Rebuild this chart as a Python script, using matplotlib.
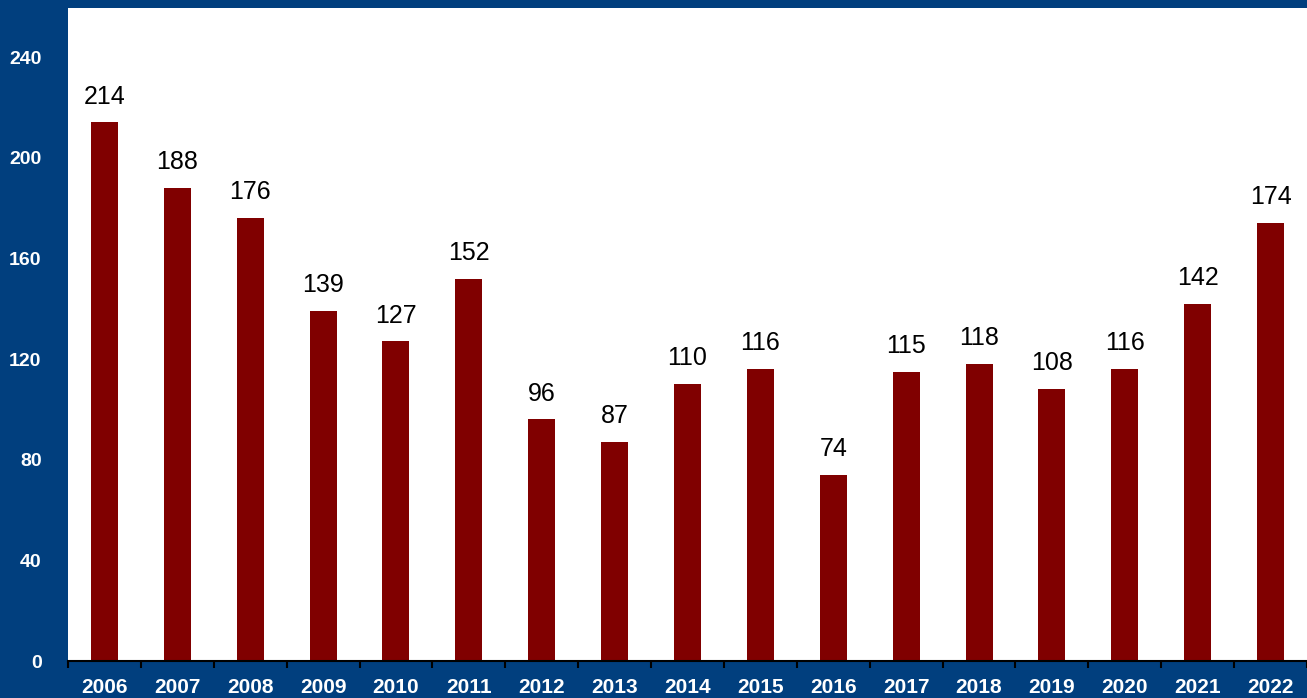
import matplotlib.pyplot as plt
import numpy as np

# datos del grafico
anios = ["2006", "2007", "2008", "2009", "2010", "2011", "2012", "2013", "2014",
         "2015", "2016", "2017", "2018", "2019", "2020", "2021", "2022"]
valores = [214, 188, 176, 139, 127, 152, 96, 87, 110, 116, 74, 115, 118, 108, 116, 142, 174]
yticks = [0, 40, 80, 120, 160, 200, 240]

azul = "#013F7E"
rojo = "#800000"

plt.rcParams['font.family'] = ['Liberation Sans', 'DejaVu Sans']

fig = plt.figure(figsize=(13.07, 6.98), dpi=100, facecolor=azul)
ax = fig.add_axes([68 / 1307, 37 / 698, 1 - 68 / 1307, (661 - 8) / 698])
ax.set_facecolor("white")

x = np.arange(len(anios))
barras = ax.bar(x, valores, width=0.37, color=rojo, zorder=2)

for xi, v in zip(x, valores):
    ax.annotate(str(v), (xi, v), xytext=(0, 10), textcoords="offset points",
                ha="center", va="bottom", fontsize=18, color="black")

ax.set_xlim(-0.5, len(anios) - 0.5)
ax.set_ylim(0, 259.5)

ax.set_yticks(yticks)
ax.set_yticklabels([str(t) for t in yticks], color="white", fontsize=14, fontweight="bold")
ax.tick_params(axis="y", length=0, pad=19)

# etiquetas en el centro, marcas en los limites
ax.set_xticks(x)
ax.set_xticklabels(anios, color="white", fontsize=15, fontweight="bold")
ax.tick_params(axis="x", which="major", length=0, pad=12)
ax.set_xticks(np.arange(-0.5, len(anios), 1), minor=True)
ax.tick_params(axis="x", which="minor", length=5, width=1.5, color="black", direction="out")

for s in ["top", "right", "left"]:
    ax.spines[s].set_visible(False)
ax.spines["bottom"].set_color("black")
ax.spines["bottom"].set_linewidth(1.5)

fig.savefig("out.png", dpi=100, facecolor=azul)
